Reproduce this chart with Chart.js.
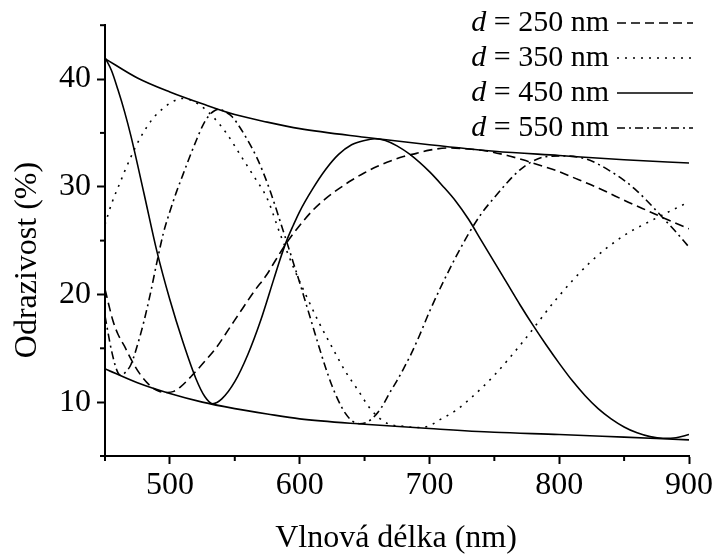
<!DOCTYPE html>
<html>
<head>
<meta charset="utf-8">
<script src="https://cdn.jsdelivr.net/npm/chart.js@4.4.0/dist/chart.umd.min.js"></script>
<style>
  html, body { margin: 0; padding: 0; background: #fff; }
</style>
</head>
<body>
<canvas id="chart" width="715" height="555"></canvas>
<script>
// film thicknesses (nm) shown in the legend
const thickness = [250, 350, 450, 550];

// d = 250 nm
const wl250 = [450, 453, 456, 460, 465, 470, 477, 486, 492, 498, 503, 508, 518, 527, 536, 546, 556, 565, 575, 580, 590, 600, 610, 620, 630, 640, 650, 660, 670, 680, 690, 700, 715, 730, 745, 760, 772, 785, 798, 812, 824, 837, 849, 862, 875, 888, 900];
const r250 = [20.5, 19.0, 17.6, 16.3, 15.2, 14.0, 12.6, 11.4, 11.0, 10.9, 11.0, 11.4, 12.6, 13.8, 15.1, 16.9, 18.7, 20.3, 21.9, 22.9, 24.8, 26.4, 27.8, 28.9, 29.8, 30.6, 31.3, 31.9, 32.4, 32.8, 33.1, 33.4, 33.6, 33.5, 33.3, 32.9, 32.5, 32.0, 31.5, 30.8, 30.2, 29.5, 28.8, 28.1, 27.4, 26.7, 26.1];

// d = 350 nm
const wl350 = [450, 455, 462, 465, 472, 477, 482, 488, 495, 502, 510, 517, 525, 534, 544, 554, 564, 575, 585, 596, 605, 614, 625, 635, 645, 655, 668, 681, 690, 700, 707, 720, 733, 750, 772, 798, 824, 849, 875, 900];
const r350 = [26.5, 28.4, 30.5, 31.4, 33.3, 34.5, 35.5, 36.5, 37.3, 37.9, 38.2, 38.0, 37.4, 36.4, 34.9, 33.0, 31.1, 28.9, 25.6, 22.3, 19.9, 17.6, 15.1, 12.9, 11.1, 9.3, 8.0, 7.75, 7.65, 7.8, 8.3, 9.2, 10.5, 12.5, 15.6, 19.6, 23.0, 25.4, 27.1, 28.6];

// d = 450 nm
const wl450 = [450, 455, 460, 465, 470, 480, 490, 500, 510, 520, 527, 533, 540, 550, 560, 570, 580, 585, 590, 595, 600, 610, 620, 630, 640, 650, 658, 666, 675, 685, 700, 710, 720, 730, 740, 750, 760, 770, 780, 790, 800, 810, 820, 830, 840, 850, 860, 870, 880, 890, 900];
const r450 = [42.0, 40.8, 39.0, 37.0, 34.7, 29.4, 24.0, 19.5, 15.6, 12.2, 10.5, 9.85, 10.3, 11.9, 14.4, 17.6, 21.4, 23.3, 25.0, 26.4, 27.7, 29.8, 31.6, 33.0, 33.9, 34.3, 34.45, 34.3, 33.8, 33.0, 31.4, 30.1, 28.7, 27.0, 25.0, 23.0, 21.0, 19.0, 17.1, 15.3, 13.6, 12.0, 10.6, 9.4, 8.45, 7.7, 7.15, 6.8, 6.65, 6.7, 7.0];

// d = 550 nm
const wl550 = [450, 455, 459, 462, 466, 470, 475, 480, 485, 490, 495, 500, 505, 510, 515, 520, 525, 530, 535, 538, 542, 548, 554, 560, 567, 572, 577, 582, 586, 590, 595, 600, 605, 610, 615, 620, 625, 630, 635, 640, 646, 652, 657, 663, 670, 675, 680, 686, 692, 700, 710, 720, 730, 740, 750, 760, 770, 780, 790, 805, 820, 830, 840, 850, 860, 870, 880, 890, 900];
const r550 = [18.0, 14.8, 13.0, 12.5, 12.8, 13.5, 15.3, 17.5, 20.1, 23.0, 25.7, 27.7, 29.5, 31.1, 32.7, 34.2, 35.6, 36.6, 37.1, 37.2, 37.0, 36.5, 35.5, 34.3, 32.7, 31.3, 29.7, 27.9, 26.4, 24.9, 23.0, 21.1, 19.1, 17.1, 15.1, 13.2, 11.5, 10.1, 9.0, 8.3, 8.0, 8.15, 8.6, 9.5, 11.0, 12.0, 13.1, 14.5, 16.1, 18.4, 21.0, 23.4, 25.6, 27.5, 29.0, 30.4, 31.6, 32.4, 32.8, 32.85, 32.6, 32.1, 31.4, 30.6, 29.6, 28.4, 27.1, 25.8, 24.4];

// envelopes (max / min reflectance)
const envWl = [450, 475, 500, 525, 550, 575, 600, 650, 700, 750, 800, 850, 900];
const envUpper = [41.9, 40.1, 38.8, 37.7, 36.7, 36.0, 35.4, 34.6, 33.9, 33.3, 32.9, 32.5, 32.2];
const envLower = [13.1, 11.8, 10.8, 10.0, 9.4, 8.9, 8.45, 7.95, 7.55, 7.2, 7.0, 6.75, 6.5];

const xTicks = [500, 600, 700, 800, 900];
const yTicks = [10, 20, 30, 40];

const serif = "'Liberation Serif', 'Times New Roman', serif";

function points(xs, ys) {
  return xs.map((x, i) => ({ x: x, y: ys[i] }));
}

function curve(label, xs, ys, dash) {
  return {
    label: label,
    data: points(xs, ys),
    borderColor: '#000',
    borderWidth: 1.6,
    borderDash: dash,
    pointRadius: 0,
    cubicInterpolationMode: 'monotone',
    fill: false
  };
}

const dashes = [[9, 5], [2, 6], [], [8, 4, 2, 4]];
const datasets = [
  curve('d = 250 nm', wl250, r250, dashes[0]),
  curve('d = 350 nm', wl350, r350, dashes[1]),
  curve('d = 450 nm', wl450, r450, dashes[2]),
  curve('d = 550 nm', wl550, r550, dashes[3]),
  curve('', envWl, envUpper, []),
  curve('', envWl, envLower, [])
];

// short ticks at the half steps
const minorTicks = {
  id: 'minorTicks',
  afterDraw(chart) {
    const ctx = chart.ctx;
    const xs = chart.scales.x, ys = chart.scales.y;
    ctx.save();
    ctx.strokeStyle = '#000';
    ctx.lineWidth = 2;
    xs.ticks.forEach(t => {
      if (xTicks.includes(t.value)) return;
      const px = xs.getPixelForValue(t.value);
      ctx.beginPath();
      ctx.moveTo(px, ys.bottom);
      ctx.lineTo(px, ys.bottom + 5);
      ctx.stroke();
    });
    ys.ticks.forEach(t => {
      if (yTicks.includes(t.value)) return;
      const py = ys.getPixelForValue(t.value);
      ctx.beginPath();
      ctx.moveTo(xs.left, py);
      ctx.lineTo(xs.left - 5, py);
      ctx.stroke();
    });
    ctx.restore();
  }
};

// legend top right: text first, then line sample
const sideLegend = {
  id: 'sideLegend',
  afterDraw(chart) {
    const ctx = chart.ctx;
    ctx.save();
    ctx.fillStyle = '#000';
    ctx.strokeStyle = '#000';
    ctx.textBaseline = 'alphabetic';
    thickness.forEach((d, i) => {
      const ds = chart.data.datasets[i];
      const base = 31 + i * 35;
      const right = 609;
      const rest = ' = ' + d + ' nm';
      ctx.font = '30px ' + serif;
      const wRest = ctx.measureText(rest).width;
      ctx.font = 'italic 30px ' + serif;
      const wD = ctx.measureText('d').width;
      ctx.fillText('d', right - wRest - wD, base);
      ctx.font = '30px ' + serif;
      ctx.fillText(rest, right - wRest, base);
      ctx.lineWidth = ds.borderWidth;
      ctx.setLineDash(ds.borderDash);
      ctx.beginPath();
      ctx.moveTo(617, base - 8);
      ctx.lineTo(693, base - 8);
      ctx.stroke();
    });
    ctx.restore();
  }
};

const axisTitles = {
  id: 'axisTitles',
  afterDraw(chart) {
    const ctx = chart.ctx;
    ctx.save();
    ctx.fillStyle = '#000';
    ctx.font = '32px ' + serif;
    ctx.textAlign = 'center';
    ctx.textBaseline = 'alphabetic';
    ctx.fillText('Vlnová délka (nm)', 396, 547);
    ctx.translate(36, 260);
    ctx.rotate(-Math.PI / 2);
    ctx.fillText('Odrazivost (%)', 0, 0);
    ctx.restore();
  }
};

new Chart(document.getElementById('chart'), {
  type: 'line',
  data: { datasets: datasets },
  plugins: [minorTicks, sideLegend, axisTitles],
  options: {
    responsive: false,
    animation: false,
    devicePixelRatio: 1,
    layout: { padding: { top: 23, right: 26, left: 0, bottom: 0 } },
    plugins: { legend: { display: false }, tooltip: { enabled: false } },
    scales: {
      x: {
        type: 'linear',
        min: 450,
        max: 900,
        afterFit: s => { s.height = 99; },
        border: { display: true, color: '#000', width: 2 },
        grid: {
          drawOnChartArea: false,
          drawTicks: true,
          tickLength: 8,
          tickWidth: 2,
          tickColor: c => (c.tick && xTicks.includes(c.tick.value)) ? '#000' : 'rgba(0,0,0,0)'
        },
        ticks: {
          stepSize: 50,
          maxRotation: 0,
          autoSkip: false,
          padding: 2,
          color: '#000',
          font: { family: serif, size: 32 },
          callback: v => xTicks.includes(v) ? String(v) : ''
        }
      },
      y: {
        type: 'linear',
        min: 5,
        max: 45,
        afterFit: s => { s.width = 105; },
        border: { display: true, color: '#000', width: 2 },
        grid: {
          drawOnChartArea: false,
          drawTicks: true,
          tickLength: 8,
          tickWidth: 2,
          tickColor: c => (c.tick && yTicks.includes(c.tick.value)) ? '#000' : 'rgba(0,0,0,0)'
        },
        ticks: {
          stepSize: 5,
          autoSkip: false,
          padding: 6,
          color: '#000',
          font: { family: serif, size: 32 },
          callback: v => yTicks.includes(v) ? String(v) : ''
        }
      }
    }
  }
});
</script>
</body>
</html>
